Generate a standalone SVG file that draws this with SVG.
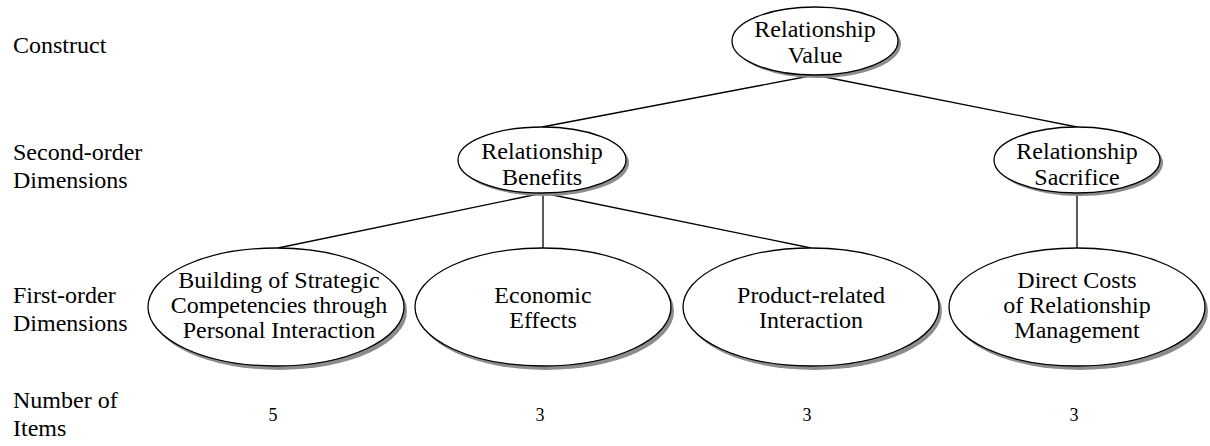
<svg xmlns="http://www.w3.org/2000/svg" width="1210" height="446" viewBox="0 0 1210 446">
<style>
text{font-size:24px;fill:#000}
.c{text-anchor:middle}
.sh{fill:#8c8c8c}
.nd{fill:#fff;stroke:#000;stroke-width:1.3}
.ln{stroke:#000;stroke-width:1.3;fill:none}
.num{font-size:18px}
</style>
<rect width="1210" height="446" fill="#fff"/>
<g font-family="Liberation Serif, Times New Roman, Times, DejaVu Serif, serif">
<g id="labels">
<text x="13" y="53">Construct</text>
<text x="13" y="160">Second-order</text>
<text x="13" y="188">Dimensions</text>
<text x="13" y="303">First-order</text>
<text x="13" y="331">Dimensions</text>
<text x="13" y="408">Number of</text>
<text x="13" y="436">Items</text>
</g>
<g id="connectors">
<line class="ln" x1="815" y1="75" x2="542" y2="127"/>
<line class="ln" x1="815" y1="75" x2="1077" y2="127"/>
<line class="ln" x1="543" y1="193" x2="278" y2="248"/>
<line class="ln" x1="543" y1="193" x2="543" y2="248"/>
<line class="ln" x1="543" y1="193" x2="811" y2="248"/>
<line class="ln" x1="1077" y1="193" x2="1077" y2="248"/>
</g>
<g id="n-value">
<ellipse class="sh" cx="818" cy="44" rx="83" ry="34"/>
<ellipse class="nd" cx="815" cy="41" rx="83" ry="34"/>
<text class="c" x="815" y="37">Relationship</text>
<text class="c" x="815" y="63">Value</text>
</g>
<g id="n-benefits">
<ellipse class="sh" cx="545" cy="163" rx="84" ry="33"/>
<ellipse class="nd" cx="542" cy="160" rx="84" ry="33"/>
<text class="c" x="542" y="159">Relationship</text>
<text class="c" x="542" y="185">Benefits</text>
</g>
<g id="n-sacrifice">
<ellipse class="sh" cx="1080" cy="163" rx="83" ry="33"/>
<ellipse class="nd" cx="1077" cy="160" rx="83" ry="33"/>
<text class="c" x="1077" y="159">Relationship</text>
<text class="c" x="1077" y="185">Sacrifice</text>
</g>
<g id="n-building">
<ellipse class="sh" cx="279" cy="311" rx="128" ry="59"/>
<ellipse class="nd" cx="276" cy="307" rx="128" ry="59"/>
<text class="c" x="279" y="288">Building of Strategic</text>
<text class="c" x="279" y="313">Competencies through</text>
<text class="c" x="279" y="338">Personal Interaction</text>
</g>
<g id="n-economic">
<ellipse class="sh" cx="546" cy="311" rx="128" ry="59"/>
<ellipse class="nd" cx="543" cy="307" rx="128" ry="59"/>
<text class="c" x="543" y="303">Economic</text>
<text class="c" x="543" y="328">Effects</text>
</g>
<g id="n-product">
<ellipse class="sh" cx="814" cy="311" rx="128" ry="59"/>
<ellipse class="nd" cx="811" cy="307" rx="128" ry="59"/>
<text class="c" x="811" y="303">Product-related</text>
<text class="c" x="811" y="328">Interaction</text>
</g>
<g id="n-direct">
<ellipse class="sh" cx="1080" cy="311" rx="128" ry="59"/>
<ellipse class="nd" cx="1077" cy="307" rx="128" ry="59"/>
<text class="c" x="1077" y="288">Direct Costs</text>
<text class="c" x="1077" y="313">of Relationship</text>
<text class="c" x="1077" y="338">Management</text>
</g>
<g id="items">
<text class="c num" x="273" y="421">5</text>
<text class="c num" x="540" y="421">3</text>
<text class="c num" x="807" y="421">3</text>
<text class="c num" x="1074" y="421">3</text>
</g>
</g>
</svg>
